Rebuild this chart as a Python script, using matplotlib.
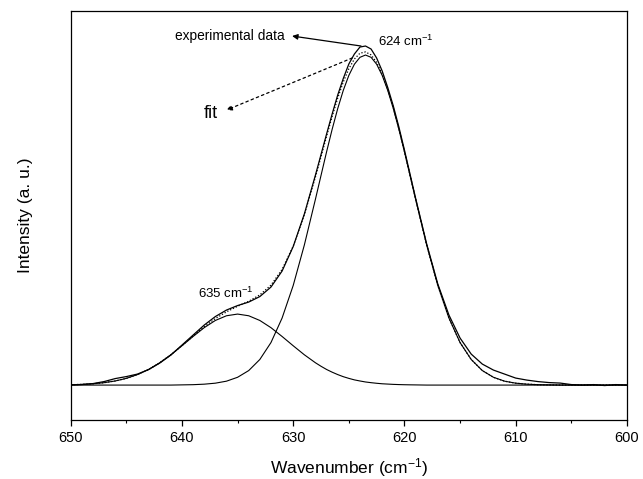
import matplotlib
matplotlib.use("Agg")
import matplotlib.pyplot as plt

plt.rcParams['font.family'] = ['Liberation Sans', 'DejaVu Sans']
plt.rcParams['mathtext.fontset'] = 'custom'
plt.rcParams['mathtext.rm'] = 'Liberation Sans'
plt.rcParams['mathtext.it'] = 'Liberation Sans:italic'

# wavenumber grid (cm-1), 650 -> 600, finer around the main peak
wavenumber = ([650, 649, 648, 647, 646, 645, 644, 643, 642, 641, 640,
               639, 638, 637, 636, 635, 634, 633, 632, 631, 630, 629] +
              [628, 627.5, 627, 626.5, 626, 625.5, 625, 624.5, 624, 623.5,
               623, 622.5, 622, 621.5, 621, 620.5, 620, 619.5, 619] +
              [618, 617, 616, 615, 614, 613, 612, 611, 610, 609,
               608, 607, 606, 605, 604, 603, 602, 601, 600])

experimental = ([0, 0.5, 1.5, 3.5, 6.5, 8.5, 11, 15.5, 22, 30, 40,
                 50, 60, 68.5, 75, 79.5, 83, 88.5, 98, 114, 138.5, 171] +
                [210, 230.5, 251, 271, 290, 306.5, 321, 331, 338, 339,
                 336, 327, 314, 297.5, 279, 258, 235, 211, 187] +
                [141, 101, 70, 47, 31, 21, 15, 11, 7, 5,
                 3.5, 2.5, 2, 0.5, 0, 0.5, -0.5, 0.5, 0])

# band at 635 cm-1
band_635 = ([0.35, 0.7, 1.3, 2.4, 4.1, 6.7, 10.5, 15.6, 22.3, 30.3, 39.3,
             48.6, 57.4, 64.6, 69.3, 71.0, 69.3, 64.6, 57.4, 48.6, 39.3, 30.3] +
            [22.3, 18.8, 15.6, 12.9, 10.5, 8.4, 6.7, 5.2, 4.1, 3.1,
             2.4, 1.8, 1.3, 1.0, 0.7, 0.5, 0.35, 0.25, 0.17] +
            [0] * 19)

# band at 624 cm-1
band_624 = ([0, 0, 0, 0, 0, 0, 0, 0, 0, 0, 0.2,
             0.4, 0.9, 1.9, 3.9, 7.8, 14.5, 25.6, 42.5, 67.0, 99.6, 140.0] +
            [185.9, 209.6, 233.2, 255.7, 276.4, 294.6, 309.6, 320.8, 327.7, 330.0,
             327.7, 320.8, 309.6, 294.6, 276.4, 255.7, 233.2, 209.6, 185.9] +
            [140.0, 99.6, 67.0, 42.5, 25.6, 14.5, 7.8, 3.9, 1.9, 0.9,
             0.4, 0.2, 0, 0, 0, 0, 0, 0, 0])

# sum of the two bands
fit = ([0.35, 0.7, 1.3, 2.4, 4.1, 6.7, 10.5, 15.6, 22.3, 30.3, 39.5,
        49.0, 58.3, 66.5, 73.2, 78.8, 83.8, 90.2, 99.9, 115.6, 138.9, 170.3] +
       [208.2, 228.4, 248.8, 268.6, 286.9, 303.0, 316.3, 326.0, 331.8, 333.1,
        330.1, 322.6, 310.9, 295.6, 277.1, 256.2, 233.6, 209.9, 186.1] +
       [140.0, 99.6, 67.0, 42.5, 25.6, 14.5, 7.8, 3.9, 1.9, 0.9,
        0.4, 0.2, 0, 0, 0, 0, 0, 0, 0])

fig = plt.figure(figsize=(6.43, 4.79), dpi=100)
ax = fig.add_axes([0.110, 0.123, 0.865, 0.854])

ax.plot(wavenumber, experimental, color='black', lw=0.9)
ax.plot(wavenumber, fit, color='black', lw=0.9, linestyle=(0, (1, 1.5)))
ax.plot(wavenumber, band_635, color='black', lw=0.8)
ax.plot(wavenumber, band_624, color='black', lw=0.8)

ax.set_xlim(650, 600)
ax.set_ylim(-35, 374)
ax.set_xticks([650, 640, 630, 620, 610, 600])
ax.set_xticks([645, 635, 625, 615, 605], minor=True)
ax.set_yticks([])
ax.tick_params(axis='x', direction='out', length=4, width=0.9, labelsize=10.5, pad=4)
ax.tick_params(axis='x', which='minor', direction='out', length=2.5, width=0.8)
for s in ax.spines.values():
    s.set_linewidth(0.9)

ax.set_xlabel('Wavenumber (cm$^{-1}$)', fontsize=12.5, labelpad=8)
ax.set_ylabel('Intensity (a. u.)', fontsize=12.5, labelpad=27)

ax.annotate('', xy=(630.1, 349), xytext=(623.9, 339),
            arrowprops=dict(arrowstyle='-|>', color='black', lw=0.9,
                            mutation_scale=8, shrinkA=0, shrinkB=0))
ax.text(630.8, 349, 'experimental data', fontsize=9.9, ha='right', va='center')

ax.annotate('', xy=(636.0, 275), xytext=(624.7, 327),
            arrowprops=dict(arrowstyle='-|>', color='black', lw=0.9,
                            linestyle=(0, (2, 2.5)),
                            mutation_scale=8, shrinkA=0, shrinkB=0))
ax.text(636.8, 272, 'fit', fontsize=13, ha='right', va='center')

ax.text(622.4, 344, '624 cm$^{-1}$', fontsize=9.5, ha='left', va='center')
ax.text(638.6, 92, '635 cm$^{-1}$', fontsize=9.5, ha='left', va='center')

fig.savefig('out.png', dpi=100)
